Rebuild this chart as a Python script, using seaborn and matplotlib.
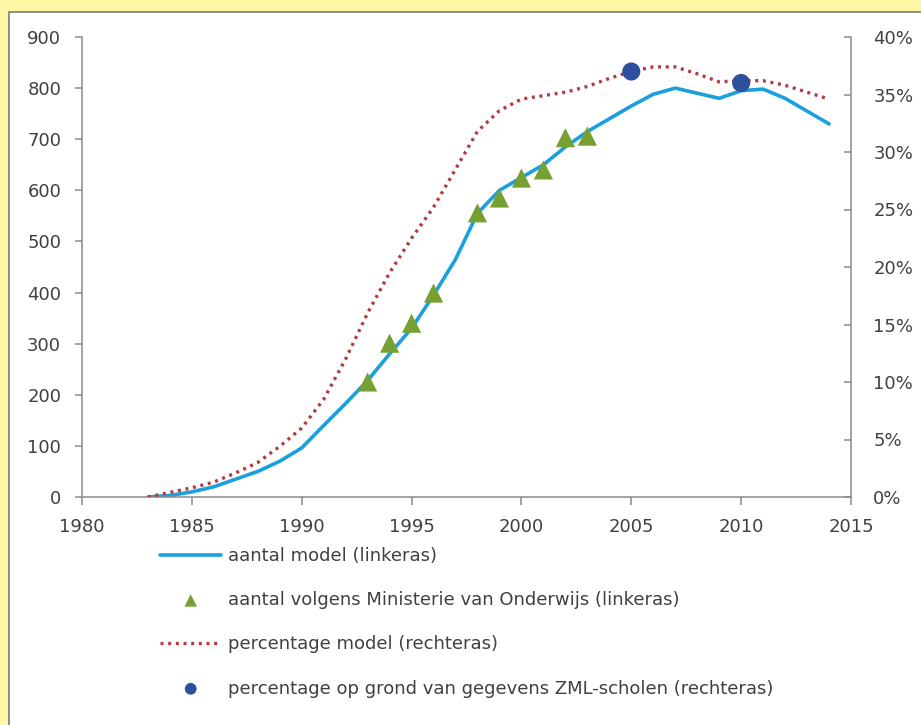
import numpy as np
import matplotlib
matplotlib.use("Agg")
import matplotlib.pyplot as plt
from matplotlib.patches import Rectangle
from matplotlib.ticker import FuncFormatter
import seaborn as sns

# data
years = list(range(1983, 2015))
aantal_model = [0, 3, 10, 20, 35, 50, 70, 96, 140, 183, 228, 280, 330, 395, 465, 555,
                600, 625, 650, 685, 715, 740, 765, 788, 800, 790, 780, 795, 798, 780, 755, 730]
percentage_model = [0, 0.4, 0.8, 1.3, 2.1, 3.0, 4.4, 6.0, 8.5, 12.0, 16.0, 19.5, 22.5, 25.2,
                    28.5, 31.8, 33.6, 34.6, 34.9, 35.2, 35.7, 36.4, 37.0, 37.4, 37.4, 36.8,
                    36.1, 36.2, 36.2, 35.8, 35.2, 34.6]
ministerie_years = [1993, 1994, 1995, 1996, 1998, 1999, 2000, 2001, 2002, 2003]
ministerie_aantal = [225, 301, 340, 399, 556, 585, 624, 640, 703, 706]
zml_years = [2005, 2010]
zml_percentage = [37.0, 36.0]

labels = ["aantal model (linkeras)",
          "aantal volgens Ministerie van Onderwijs (linkeras)",
          "percentage model (rechteras)",
          "percentage op grond van gegevens ZML-scholen (rechteras)"]

sns.set_style("white")
plt.rcParams['font.family'] = ['DejaVu Sans']

blue = "#1aa0dc"
red = "#b23c3e"
green = "#76a132"
navy = "#2e4f9e"
axis_grey = "#8a8a8a"
text_grey = "#404040"

fig = plt.figure(figsize=(9.21, 7.25), dpi=100, facecolor="#fff6a6")
# white panel with grey border, behind everything
fig.patches.append(Rectangle((9 / 921, -0.01), 1, 1.01 - 12 / 725, transform=fig.transFigure,
                             facecolor="white", edgecolor="#7a7a7a", lw=1.2, zorder=-10))

ax = fig.add_axes([82 / 921, 1 - 497 / 725, (851 - 82) / 921, (497 - 37) / 725])
ax.set_facecolor("none")
ax2 = ax.twinx()
ax2.set_facecolor("none")

sns.lineplot(x=years, y=aantal_model, ax=ax, color=blue, lw=2.6, label=labels[0], legend=False)
sns.scatterplot(x=ministerie_years, y=ministerie_aantal, ax=ax, marker="^", s=190,
                color=green, edgecolor="none", label=labels[1], legend=False, zorder=4)
sns.lineplot(x=years, y=percentage_model, ax=ax2, color=red, lw=2.4,
             linestyle=(0, (0.9, 1.4)), label=labels[2], legend=False)
sns.scatterplot(x=zml_years, y=zml_percentage, ax=ax2, marker="o", s=170,
                color=navy, edgecolor="none", label=labels[3], legend=False, zorder=4)

ax.set_xlim(1980, 2015)
ax.set_ylim(0, 900)
ax2.set_ylim(0, 40)
ax.set_xticks(range(1980, 2016, 5))
ax.set_yticks(range(0, 901, 100))
ax2.set_yticks(range(0, 41, 5))
ax2.yaxis.set_major_formatter(FuncFormatter(lambda v, p: f"{v:.0f}%"))

for a in (ax, ax2):
    for s in a.spines.values():
        s.set_color(axis_grey)
        s.set_linewidth(1.1)
    a.spines["top"].set_visible(False)
    a.set_xlabel("")
    a.set_ylabel("")
ax.spines["right"].set_visible(False)
ax2.spines["left"].set_visible(False)
ax2.spines["bottom"].set_visible(False)

ax.tick_params(axis="x", direction="out", length=6, width=1.1, color=axis_grey,
               labelsize=13, labelcolor=text_grey, pad=9, bottom=True)
ax.tick_params(axis="y", direction="out", length=5, width=1.1, color=axis_grey,
               labelsize=13, labelcolor=text_grey, pad=10, left=True)
ax2.tick_params(axis="y", direction="in", length=5, width=1.1, color=axis_grey,
                labelsize=13, labelcolor=text_grey, pad=16, right=True)

h1, l1 = ax.get_legend_handles_labels()
h2, l2 = ax2.get_legend_handles_labels()
fig.legend(h1 + h2, l1 + l2, loc="upper left",
           bbox_to_anchor=(160 / 921, 1 - 547 / 725), frameon=False, fontsize=13,
           labelcolor=text_grey, handlelength=3.4, handletextpad=0.35,
           labelspacing=1.45, borderpad=0, borderaxespad=0, scatterpoints=1,
           markerscale=0.65)

fig.savefig("out.png", dpi=100, facecolor=fig.get_facecolor())
